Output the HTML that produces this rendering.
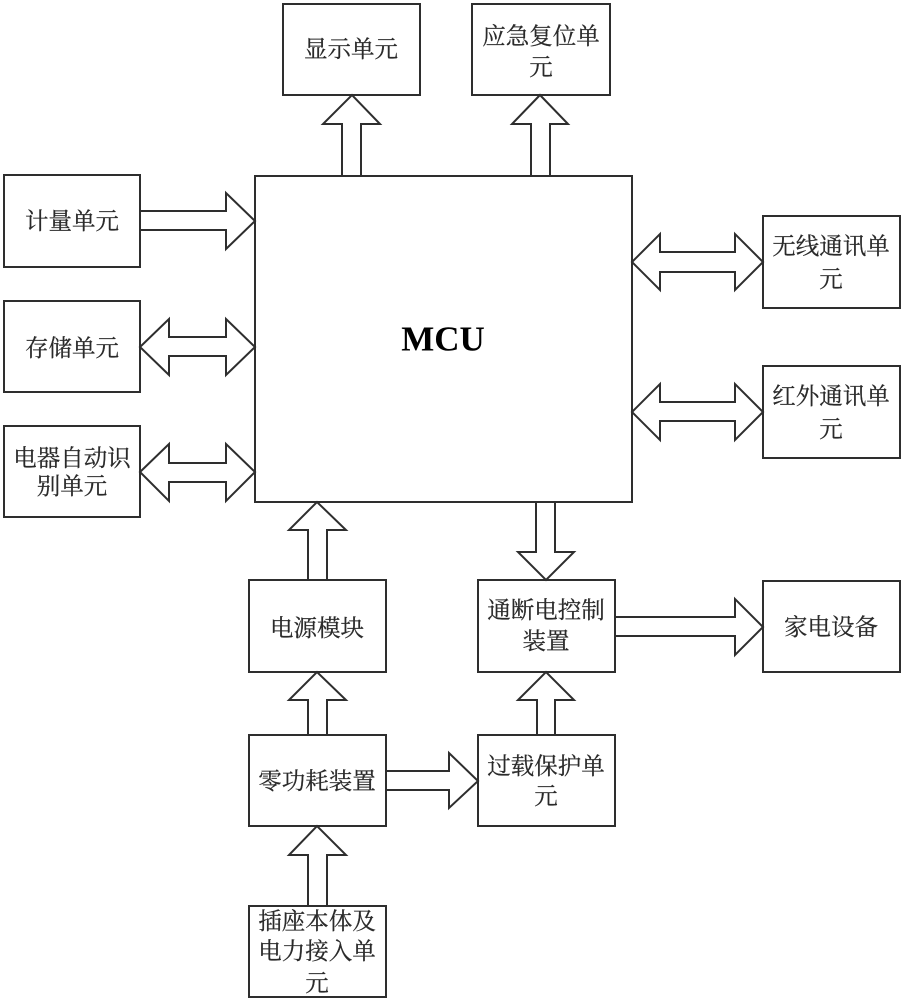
<!DOCTYPE html>
<html lang="zh">
<head>
<meta charset="utf-8">
<style>
html,body{margin:0;padding:0;background:#fff}
svg{display:block;filter:blur(0.35px)}
rect,polygon{fill:#fff;stroke:#2e2e2e;stroke-width:2}
text{font-family:"Liberation Serif","Noto Serif CJK SC",serif;font-size:23.5px;fill:#2a2a2a;stroke:#2a2a2a;stroke-width:0.25;text-anchor:middle;dominant-baseline:central}
.m{font-family:"Liberation Serif",serif;font-weight:bold;font-size:35px;fill:#000;stroke:none}
</style>
</head>
<body>
<svg width="907" height="1000" viewBox="0 0 907 1000" xmlns="http://www.w3.org/2000/svg">
<!-- boxes -->
<rect x="283" y="4" width="137" height="91"/>
<rect x="472" y="4" width="138" height="91"/>
<rect x="255" y="176" width="377" height="326"/>
<rect x="4" y="175" width="136" height="92"/>
<rect x="4" y="301" width="136" height="91"/>
<rect x="4" y="426" width="136" height="91"/>
<rect x="763" y="216" width="137" height="92"/>
<rect x="763" y="366" width="137" height="92"/>
<rect x="763" y="581" width="137" height="91"/>
<rect x="249" y="580" width="137" height="92"/>
<rect x="478" y="580" width="137" height="92"/>
<rect x="249" y="735" width="137" height="91"/>
<rect x="478" y="735" width="137" height="91"/>
<rect x="249" y="906" width="137" height="91"/>

<!-- up arrows -->
<polygon points="342,176 342,124 323,124 352,95 380,124 361,124 361,176"/>
<polygon points="531,176 531,124 512,124 540,95 568,124 550,124 550,176"/>
<polygon points="308,580 308,530 289,530 317,502 346,530 327,530 327,580"/>
<polygon points="308,735 308,700 289,700 317,672 346,700 327,700 327,735"/>
<polygon points="537,735 537,700 518,700 546,672 574,700 555,700 555,735"/>
<polygon points="308,906 308,855 289,855 317,826 346,855 327,855 327,906"/>
<!-- down arrow -->
<polygon points="536,502 536,552 518,552 546,580 574,552 555,552 555,502"/>
<!-- right arrows -->
<polygon points="140,211 226,211 226,193 255,221 226,249 226,230 140,230"/>
<polygon points="615,617 735,617 735,599 763,627 735,655 735,636 615,636"/>
<polygon points="386,771 449,771 449,753 478,781 449,808 449,790 386,790"/>
<!-- double arrows -->
<polygon points="140,347 169,319 169,337 226,337 226,319 255,347 226,375 226,356 169,356 169,375"/>
<polygon points="140,472 169,444 169,463 226,463 226,444 255,472 226,501 226,482 169,482 169,501"/>
<polygon points="632,262 660,234 660,252 735,252 735,234 763,262 735,290 735,272 660,272 660,290"/>
<polygon points="632,412 660,384 660,402 735,402 735,384 763,412 735,440 735,421 660,421 660,440"/>

<!-- labels -->
<text x="351" y="50">显示单元</text>
<text x="541" y="37">应急复位单</text>
<text x="541" y="68">元</text>
<text class="m" x="443" y="339">MCU</text>
<text x="72" y="222">计量单元</text>
<text x="72" y="349">存储单元</text>
<text x="72" y="459">电器自动识</text>
<text x="72" y="487">别单元</text>
<text x="831" y="247">无线通讯单</text>
<text x="831" y="280">元</text>
<text x="831" y="397">红外通讯单</text>
<text x="831" y="430">元</text>
<text x="831" y="628">家电设备</text>
<text x="317" y="629">电源模块</text>
<text x="546" y="611">通断电控制</text>
<text x="546" y="642">装置</text>
<text x="317" y="782">零功耗装置</text>
<text x="546" y="767">过载保护单</text>
<text x="546" y="797">元</text>
<text x="317" y="922">插座本体及</text>
<text x="317" y="952">电力接入单</text>
<text x="317" y="984">元</text>
</svg>
</body>
</html>
